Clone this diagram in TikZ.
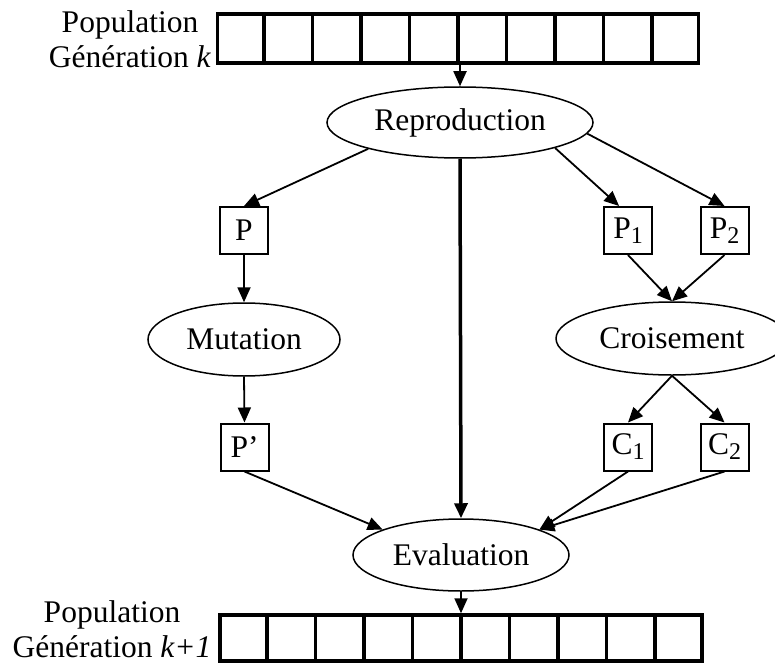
\documentclass[tikz,border=0pt]{standalone}
\usepackage{fontspec}
\setmainfont{Liberation Serif}
\usetikzlibrary{shapes.geometric,arrows.meta,calc}
\newcommand{\sbx}[1]{\raisebox{-5pt}{\fontsize{24}{24}\selectfont #1}}
\begin{document}
\begin{tikzpicture}[x=1pt,y=-1pt,
  every node/.style={font=\fontsize{31.5}{36}\selectfont, inner sep=0pt},
  proc/.style={ellipse, draw, line width=1.5pt},
  indiv/.style={rectangle, draw, line width=2pt, minimum width=48pt, minimum height=47pt},
  arr/.style={rectangle, draw, line width=3.5pt, minimum height=49pt},
  conn/.style={line width=1.8pt, -{Triangle[length=15pt,width=13pt]}},
  thickconn/.style={line width=3.5pt, -{Triangle[length=15pt,width=13pt]}},
  ]
\useasboundingbox (0,0) rectangle (775,663);
% population arrays
\node[arr, minimum width=481pt] (topArr) at (458,38.5) {};
\node[arr, minimum width=482pt, minimum height=46pt] (botArr) at (461,638) {};
\foreach \i in {1,...,9}{
  \draw[line width=3.5pt] ($(topArr.north west)!\i/10!(topArr.north east)$) -- ($(topArr.south west)!\i/10!(topArr.south east)$);
  \draw[line width=3.5pt] ($(botArr.north west)!\i/10!(botArr.north east)$) -- ($(botArr.south west)!\i/10!(botArr.south east)$);
}
% labels
\node[anchor=base] (popK) at (130,33) {Population};
\node[anchor=base] (genK) at (130,68) {Génération \textit{k}};
\node[anchor=base] (popK1) at (112,622) {Population};
\node[anchor=base] (genK1) at (112,657) {Génération \textit{k+1}};
% operators
\node[proc, minimum width=266pt, minimum height=71pt] (rep) at (460,122.5) {Reproduction};
\node[proc, minimum width=192pt, minimum height=73pt] (mut) at (244,339.5) {Mutation};
\node[proc, minimum width=232pt, minimum height=73pt] (cro) at (672,338.5) {Croisement};
\node[proc, minimum width=216pt, minimum height=72pt] (eval) at (461,555) {Evaluation};
% individuals
\node[indiv] (P) at (244,230.5) {P};
\node[indiv] (P1) at (628,230.5) {P\sbx{1}};
\node[indiv] (P2) at (724.5,230.5) {P\sbx{2}};
\node[indiv] (Pp) at (244.5,447) {P’};
\node[indiv] (C1) at (628,447) {C\sbx{1}};
\node[indiv] (C2) at (724.5,447) {C\sbx{2}};
% connectors
\draw[conn] (rep.north |- topArr.south) -- (rep.north);
\draw[conn] (rep.196) -- (P.north);
\draw[conn] (rep.-15) -- (P1.110);
\draw[conn] (rep.-5) -- (P2.north);
\draw[thickconn] (rep.south) -- (eval.north);
\draw[conn] (P.south) -- (mut.north);
\draw[conn] (mut.south) -- (Pp.north);
\draw[conn] (P1.south) -- (cro.north);
\draw[conn] (P2.south) -- (cro.north);
\draw[conn] (cro.south) -- (C1.north);
\draw[conn] (cro.south) -- (C2.north);
\draw[conn] (Pp.south) -- (eval.162);
\draw[conn] (C1.south) -- (eval.18);
\draw[conn] (C2.south) -- (eval.18);
\draw[conn] (eval.south) -- (eval.south |- botArr.north);
\end{tikzpicture}
\end{document}
